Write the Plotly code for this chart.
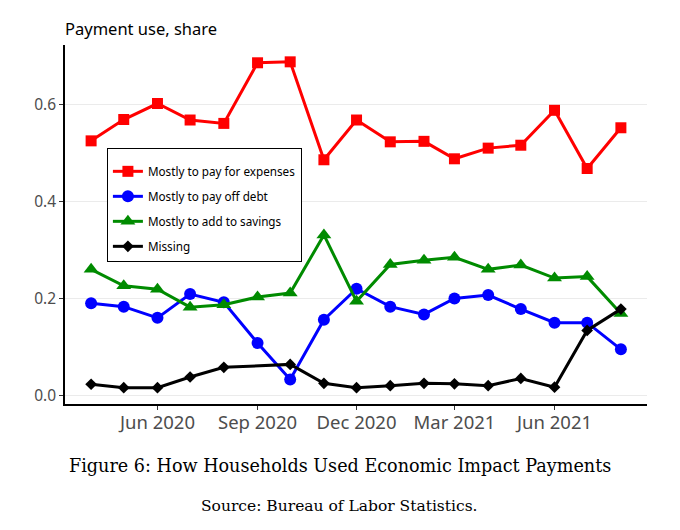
import plotly.graph_objects as go

dates = ["2020-04-01", "2020-05-01", "2020-06-01", "2020-07-01", "2020-08-01",
         "2020-09-01", "2020-10-01", "2020-11-01", "2020-12-01", "2021-01-01",
         "2021-02-01", "2021-03-01", "2021-04-01", "2021-05-01", "2021-06-01",
         "2021-07-01", "2021-08-01"]

expenses = [0.526, 0.570, 0.603, 0.569, 0.562, 0.687, 0.689, 0.487, 0.569, 0.524,
            0.525, 0.489, 0.511, 0.517, 0.589, 0.469, 0.553]
debt = [0.191, 0.184, 0.161, 0.210, 0.193, 0.109, 0.034, 0.157, 0.221, 0.184,
        0.168, 0.201, 0.208, 0.179, 0.151, 0.151, 0.096]
savings = [0.261, 0.227, 0.220, 0.183, 0.188, 0.204, 0.212, 0.332, 0.195, 0.271,
           0.280, 0.286, 0.261, 0.270, 0.243, 0.246, 0.170]
missing = [0.024, 0.017, 0.017, 0.039, 0.059, None, 0.065, 0.026, 0.017, 0.021,
           0.026, 0.025, 0.021, 0.036, 0.018, 0.135, 0.179]

series = [
    ("Mostly to pay for expenses", expenses, "#ff0000", "square", 11),
    ("Mostly to pay off debt", debt, "#0000ff", "circle", 12),
    ("Mostly to add to savings", savings, "#008b00", "triangle-up", 13),
    ("Missing", missing, "#000000", "diamond", 9),
]

x_ticks = ["2020-06-01", "2020-09-01", "2020-12-01", "2021-03-01", "2021-06-01"]
x_tick_labels = ["Jun 2020", "Sep 2020", "Dec 2020", "Mar 2021", "Jun 2021"]
y_ticks = [0.0, 0.2, 0.4, 0.6]

fig = go.Figure()
for i, (name, vals, color, symbol, size) in enumerate(series):
    fig.add_trace(go.Scatter(
        x=dates, y=vals, name=name, mode="lines+markers",
        connectgaps=True, legendgroup=str(i),
        line=dict(color=color, width=3),
        marker=dict(color=color, symbol=symbol, size=size),
    ))

fig.update_layout(
    width=664, height=514,
    paper_bgcolor="white", plot_bgcolor="white",
    margin=dict(l=57, r=25, t=37, b=118, autoexpand=False),
    font=dict(family="Noto Sans", color="#4d4d4d"),
    showlegend=True,
    legend=dict(
        x=0.072, y=0.713, xanchor="left", yanchor="top",
        bordercolor="#000000", borderwidth=1, bgcolor="white",
        font=dict(family="Noto Sans", size=11.7, color="#000000"),
        traceorder="grouped", tracegroupgap=6,
        title=dict(text=" ", font=dict(size=6)),
    ),
    xaxis=dict(
        type="date", range=["2020-03-08", "2021-08-25"],
        tickvals=x_ticks, ticktext=x_tick_labels,
        showgrid=False, zeroline=False,
        showline=True, linecolor="#000000", linewidth=1.5,
        ticks="outside", ticklen=4, tickcolor="#333333",
        ticklabelstandoff=-3,
        tickfont=dict(size=18.5, color="#4d4d4d"),
    ),
    yaxis=dict(
        range=[-0.0167, 0.7237],
        tickvals=y_ticks, ticktext=[f"{v:.1f}" for v in y_ticks],
        showgrid=True, gridcolor="#ebebeb", gridwidth=1.2, zeroline=False,
        showline=True, linecolor="#000000", linewidth=1.5,
        ticks="outside", ticklen=4, tickcolor="#333333",
        tickfont=dict(size=15.5, color="#4d4d4d"),
    ),
    annotations=[
        dict(text="Payment use, share", xref="paper", yref="paper",
             x=0.0, y=1.0, xanchor="left", yanchor="bottom", yshift=3, xshift=-2,
             showarrow=False, font=dict(family="Noto Sans", size=16.5, color="#000000")),
        dict(text="Figure 6: How Households Used Economic Impact Payments",
             xref="paper", yref="paper", x=0.4725, y=0, xanchor="center", yanchor="middle",
             yshift=-62, showarrow=False,
             font=dict(family="DejaVu Serif", size=17.6, color="#000000")),
        dict(text="Source: Bureau of Labor Statistics.",
             xref="paper", yref="paper", x=0.4725, y=0, xanchor="center", yanchor="middle",
             yshift=-102, showarrow=False,
             font=dict(family="DejaVu Serif", size=15.5, color="#000000")),
    ],
)

fig.write_html("out.html")
